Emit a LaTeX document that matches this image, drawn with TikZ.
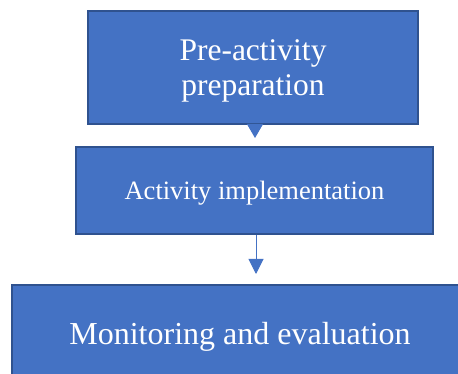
\documentclass[tikz,border=0pt]{standalone}
\usepackage{fontspec}
\setmainfont{Liberation Serif}
\usepackage{xcolor}
\usepackage{tikz}
\usetikzlibrary{arrows.meta}
\definecolor{boxblue}{HTML}{4472C4}
\definecolor{edgeblue}{HTML}{2F528F}

\begin{document}
\begin{tikzpicture}[x=1pt,y=-1pt,
box/.style={draw=edgeblue,fill=boxblue,line width=1.5pt,text=white,align=center,inner sep=0pt,text depth=0pt},
tipline/.style={boxblue,line width=1pt}]
\useasboundingbox(0,0)rectangle(458,374);
\clip(0,0)rectangle(458,374);
\node[box,minimum width=330pt,minimum height=113pt,font=\fontsize{31.5}{34.5}\selectfont](prep)at(253,67.5){Pre-activity\\preparation};
\node[box,minimum width=357pt,minimum height=87pt,font=\fontsize{26.5}{30}\selectfont](impl)at(254.5,190.5){Activity implementation};
\node[box,minimum width=456pt,minimum height=96pt,font=\fontsize{32}{37}\selectfont](monitor)at(240,333){Monitoring and evaluation};
\coordinate(pend)at(255,138);
\coordinate(iend)at(256,274);
\draw[tipline,-{Triangle[length=14pt,width=16pt]}](prep.south-|pend)--(pend);
\draw[tipline,-{Triangle[length=15pt,width=15pt]}](impl.south-|iend)--(iend);
\end{tikzpicture}
\end{document}
